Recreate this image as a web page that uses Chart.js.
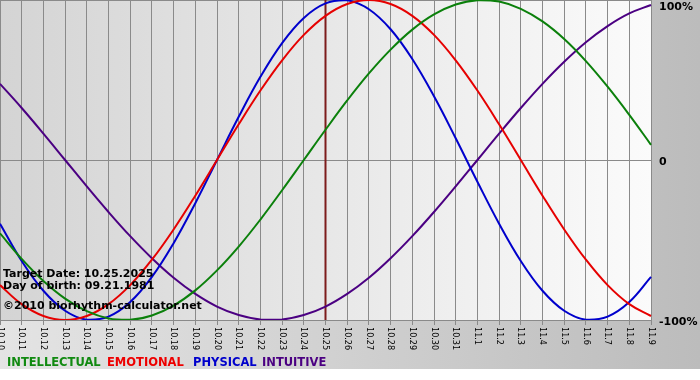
<!DOCTYPE html>
<html>
<head>
<meta charset="utf-8">
<script src="https://cdn.jsdelivr.net/npm/chart.js@4/dist/chart.umd.min.js"></script>
<style>
  html, body { margin: 0; padding: 0; background: #ffffff; }
  #wrap { width: 700px; height: 380px; }
</style>
</head>
<body>
<div id="wrap"><canvas id="c" width="700" height="380"></canvas></div>
<script>
// ---- data ----
const dates = ['10.10','10.11','10.12','10.13','10.14','10.15','10.16','10.17','10.18','10.19','10.20',
  '10.21','10.22','10.23','10.24','10.25','10.26','10.27','10.28','10.29','10.30','10.31',
  '11.1','11.2','11.3','11.4','11.5','11.6','11.7','11.8','11.9'];

const intellectual = [-45.8,-61.8,-75.6,-86.6,-94.5,-99.0,-99.9,-97.2,-91.0,-81.5,-69.0,
  -54.1,-37.2,-18.9,0,18.9,37.2,54.1,69.0,81.5,91.0,97.2,
  99.9,99.0,94.5,86.6,75.6,61.8,45.8,28.2,9.5];

const emotional = [-78.2,-90.1,-97.5,-100,-97.5,-90.1,-78.2,-62.3,-43.4,-22.3,0,
  22.3,43.4,62.3,78.2,90.1,97.5,100,97.5,90.1,78.2,62.3,
  43.4,22.3,0,-22.3,-43.4,-62.3,-78.2,-90.1,-97.5];

const physical = [-39.8,-63.1,-81.7,-94.2,-99.8,-97.9,-88.8,-73.1,-52.0,-27.0,0,
  27.0,52.0,73.1,88.8,97.9,99.8,94.2,81.7,63.1,39.8,13.6,
  -13.6,-39.8,-63.1,-81.7,-94.2,-99.8,-97.9,-88.8,-73.1];

const intuitive = [47.6,32.5,16.5,0,-16.5,-32.5,-47.6,-61.4,-73.6,-83.7,-91.6,
  -96.9,-99.7,-99.7,-96.9,-91.6,-83.7,-73.6,-61.4,-47.6,-32.5,-16.5,
  0,16.5,32.5,47.6,61.4,73.6,83.7,91.6,96.9];

const yTickValues = [100, 0, -100];
const yTickLabels = ['100%', '0', '-100%'];
const seriesNames = ['INTELLECTUAL', 'EMOTIONAL', 'PHYSICAL', 'INTUITIVE'];
const targetDate = '10.25';
const infoLines = ['Target Date: 10.25.2025', 'Day of birth: 09.21.1981', '\u00A92010 biorhythm-calculator.net'];

// ---- styles ----
const lineColors = ['#0b800b', '#e60000', '#0000cc', '#4b0082'];
const legendColors = ['#118a11', '#ee0000', '#0000cc', '#4b0082'];
const legendX = [7, 107, 193, 262];
const infoBaselines = [277, 289, 309];
const gridColor = '#8a8a8a';

const bgPlugin = {
  id: 'bg',
  beforeDraw(chart) {
    const ctx = chart.ctx, a = chart.chartArea;
    ctx.save();
    ctx.fillStyle = '#ffffff';
    ctx.fillRect(0, 0, chart.width, chart.height);
    const g = ctx.createLinearGradient(0, 0, chart.width, 0);
    g.addColorStop(0, '#e4e4e4');
    g.addColorStop(1, '#bcbcbc');
    ctx.fillStyle = g;
    ctx.fillRect(0, 0, chart.width, 369);
    const g2 = ctx.createLinearGradient(a.left, 0, a.right, 0);
    g2.addColorStop(0, '#d4d4d4');
    g2.addColorStop(1, '#fbfbfb');
    ctx.fillStyle = g2;
    ctx.fillRect(a.left, a.top, a.right - a.left, a.bottom - a.top);
    ctx.restore();
  },
  beforeDatasetsDraw(chart) {
    const ctx = chart.ctx, a = chart.chartArea;
    const x = chart.scales.x.getPixelForValue(dates.indexOf(targetDate));
    ctx.save();
    ctx.strokeStyle = '#7d1c1c';
    ctx.lineWidth = 2;
    ctx.beginPath();
    ctx.moveTo(x, a.top);
    ctx.lineTo(x, a.bottom);
    ctx.stroke();
    ctx.restore();
  },
  afterDraw(chart) {
    const ctx = chart.ctx, a = chart.chartArea;
    const xs = chart.scales.x, ys = chart.scales.y;
    ctx.save();
    // x tick labels, rotated clockwise
    ctx.fillStyle = '#000000';
    ctx.font = '9px "DejaVu Sans Condensed", "DejaVu Sans", sans-serif';
    ctx.textAlign = 'left';
    ctx.textBaseline = 'middle';
    xs.ticks.forEach((t, i) => {
      const x = xs.getPixelForTick(i);
      ctx.save();
      ctx.translate(x, a.bottom + 7);
      ctx.rotate(Math.PI / 2);
      ctx.fillText(dates[i], 0, 0);
      ctx.restore();
    });
    // y labels on the right
    ctx.font = 'bold 11px "DejaVu Sans", sans-serif';
    ctx.textBaseline = 'middle';
    yTickValues.forEach((v, i) => {
      let y = ys.getPixelForValue(v) + 2;
      y = Math.max(y, 7);
      ctx.fillText(yTickLabels[i], a.right + 8, y);
    });
    // legend
    ctx.font = 'bold 11.5px "DejaVu Sans", sans-serif';
    ctx.textBaseline = 'alphabetic';
    seriesNames.forEach((n, i) => {
      ctx.fillStyle = legendColors[i];
      ctx.fillText(n, legendX[i], 366);
    });
    // info lines
    ctx.font = 'bold 11px "DejaVu Sans", sans-serif';
    ctx.fillStyle = '#000000';
    infoLines.forEach((s, i) => ctx.fillText(s, 3, infoBaselines[i]));
    ctx.restore();
  }
};

const seriesData = [intellectual, emotional, physical, intuitive];

new Chart(document.getElementById('c'), {
  type: 'line',
  data: {
    labels: dates,
    datasets: seriesNames.map((n, i) => ({
      label: n,
      data: seriesData[i],
      borderColor: lineColors[i],
      backgroundColor: lineColors[i],
      borderWidth: 2,
      pointRadius: 0,
      tension: 0.4,
      fill: false
    }))
  },
  options: {
    responsive: false,
    animation: false,
    devicePixelRatio: 1,
    layout: { padding: { left: 0, right: 0, top: 0, bottom: 55 } },
    plugins: { legend: { display: false }, tooltip: { enabled: false } },
    scales: {
      x: {
        type: 'category',
        offset: false,
        grid: { color: gridColor, lineWidth: 1, drawTicks: true, tickLength: 5, tickColor: gridColor },
        border: { color: gridColor },
        ticks: { display: false, autoSkip: false }
      },
      y: {
        position: 'right',
        min: -100,
        max: 100,
        afterBuildTicks: (s) => { s.ticks = yTickValues.map(v => ({ value: v })); },
        afterFit: (s) => { s.width = 49; },
        grid: { color: gridColor, lineWidth: 1, drawTicks: false },
        border: { color: gridColor },
        ticks: { display: false }
      }
    }
  },
  plugins: [bgPlugin]
});
</script>
</body>
</html>
